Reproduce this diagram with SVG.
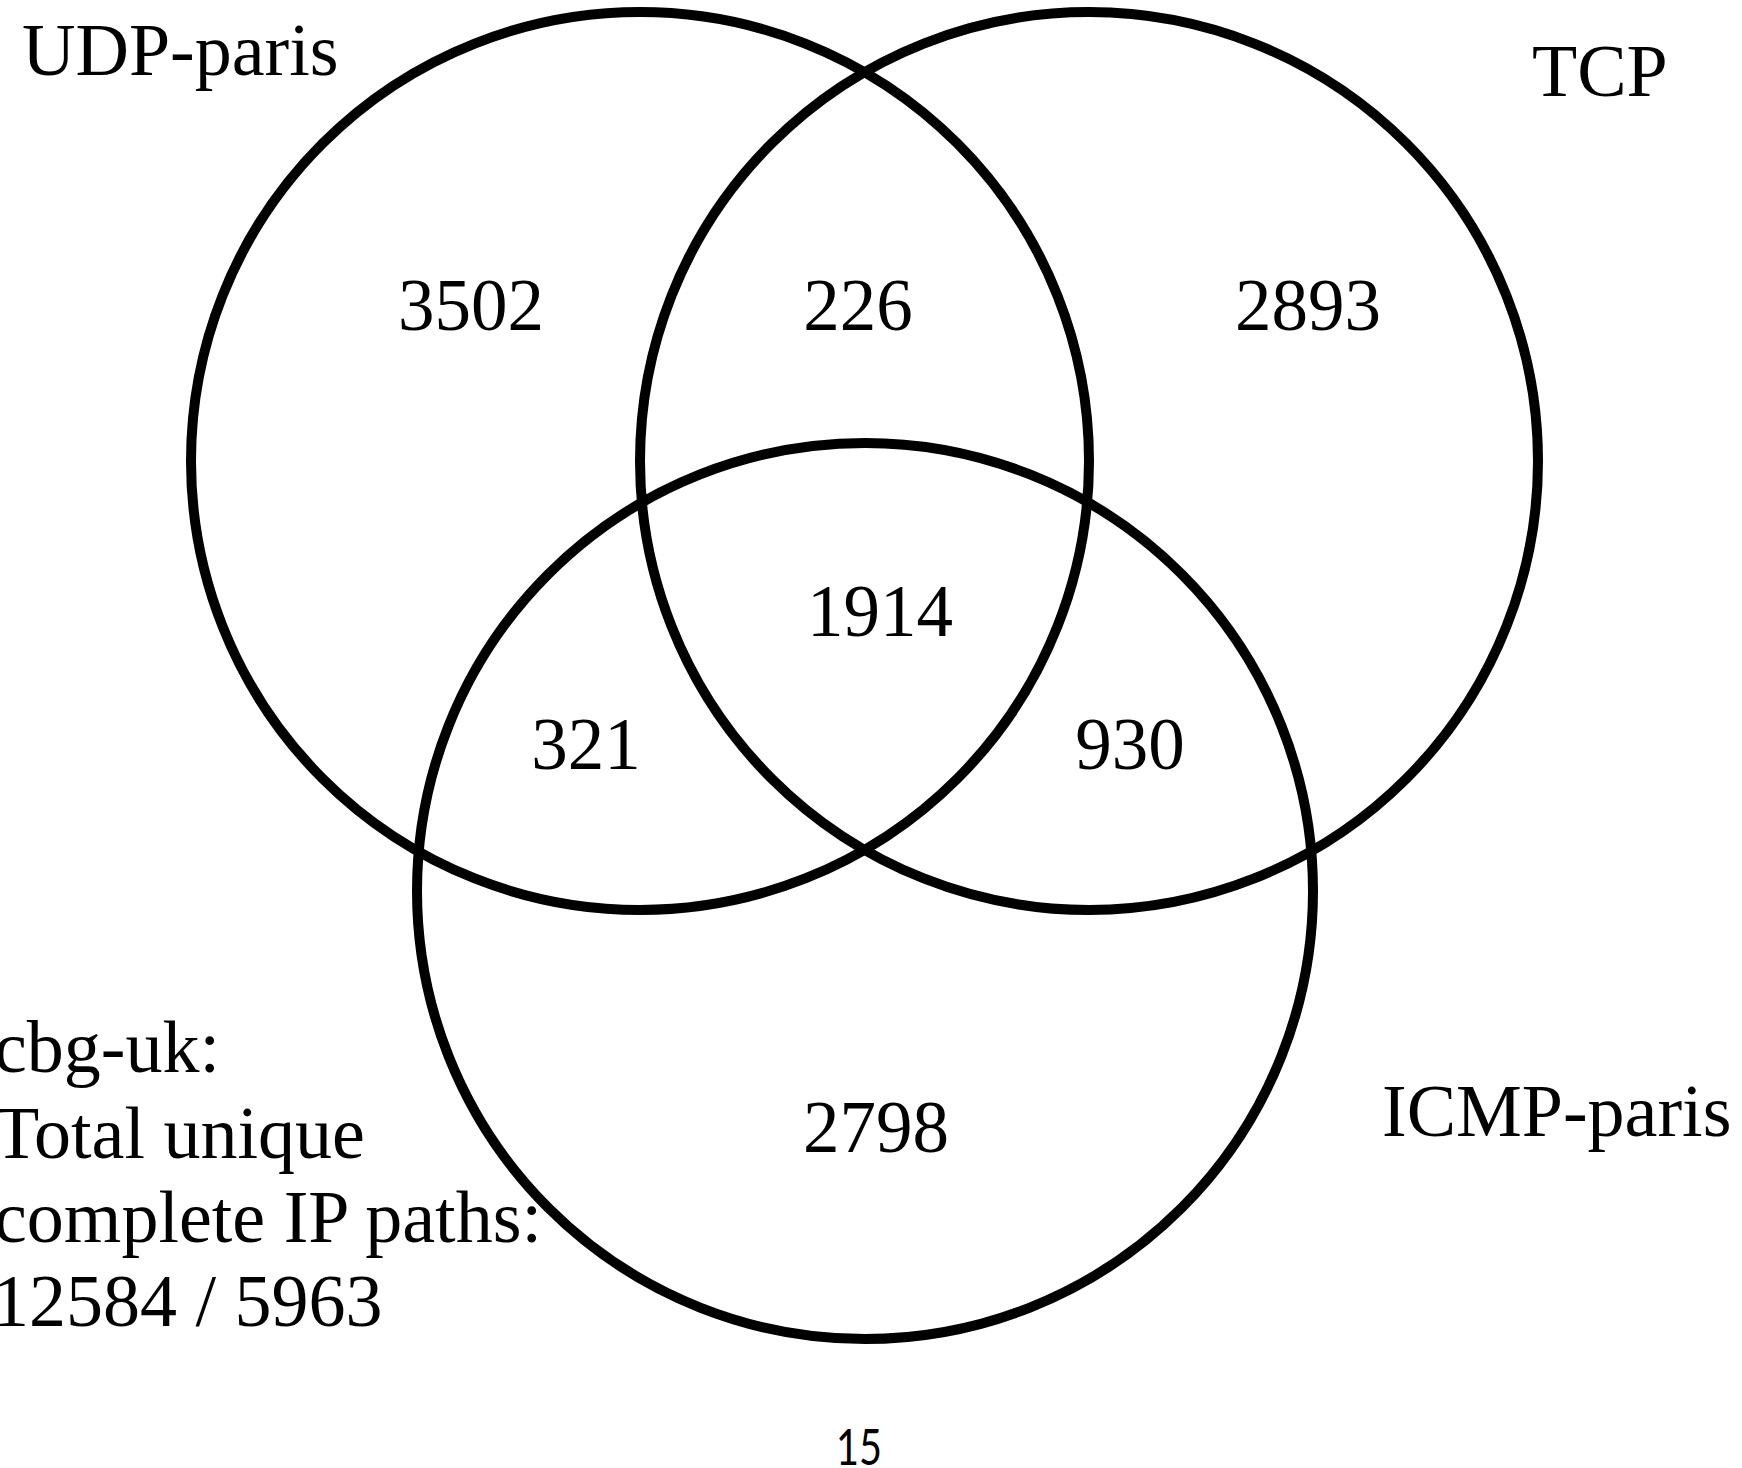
<svg xmlns="http://www.w3.org/2000/svg" width="1742" height="1468" viewBox="0 0 1742 1468">
<style>
.c{fill:none;stroke:#000;stroke-width:10}
.t{font-family:"Liberation Serif","Times New Roman",serif;font-size:74px;fill:#000}
.n{font-family:"Liberation Serif","Times New Roman",serif;font-size:73px;fill:#000;text-anchor:middle}
.p{font-family:Lato,"Open Sans",sans-serif;font-size:51px;fill:#000}
</style>
<rect width="1742" height="1468" fill="#fff"/>
<g id="udp"><circle class="c" cx="640" cy="461" r="449"/><text class="t" x="22" y="75">UDP-paris</text></g>
<g id="tcp"><circle class="c" cx="1089" cy="461" r="449"/><text class="t" x="1532" y="96">TCP</text></g>
<g id="icmp"><circle class="c" cx="865" cy="891" r="448"/><text class="t" x="1382" y="1136">ICMP-paris</text></g>
<g id="regions">
<text class="n" x="471" y="330">3502</text>
<text class="n" x="858" y="330">226</text>
<text class="n" x="1308" y="330">2893</text>
<text class="n" x="880" y="636">1914</text>
<text class="n" x="586" y="769">321</text>
<text class="n" x="1130" y="769">930</text>
<text class="n" x="876" y="1152">2798</text>
</g>
<g id="summary">
<text class="t" x="-6" y="1072">cbg-uk:</text>
<text class="t" x="-6" y="1158">Total unique</text>
<text class="t" x="-6" y="1242">complete IP paths:</text>
<text class="t" x="-8" y="1326">12584 / 5963</text>
</g>
<g id="connectors"></g>
<text class="p" x="836" y="1465" textLength="46" lengthAdjust="spacingAndGlyphs">15</text>
</svg>
